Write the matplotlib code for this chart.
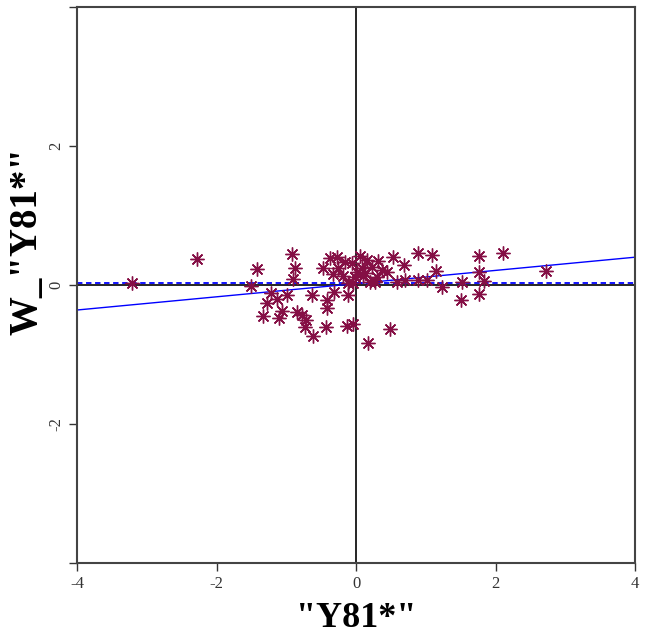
import numpy as np
import matplotlib
matplotlib.use("Agg")
import matplotlib.pyplot as plt

# standardized variable "Y81*" and its spatial lag W_"Y81*"
y81 = [-3.21, -2.28, -1.42, -1.50, -1.22, -1.28, -1.13, -1.34, -1.11, -0.92,
       -0.88, -0.90, -0.99, -1.06, -0.85, -0.77, -0.72, -0.73, -0.62, -0.63,
       -0.43, -0.42, -0.42, -0.32, -0.47, -0.37, -0.27, -0.26, -0.19, -0.11,
       -0.13, -0.04, 0.06, -0.06, 0.13, -0.01, 0.16, 0.32, 0.53, 0.69,
       0.44, 0.89, 1.09, 1.15, 1.23, 1.02, 0.89, 0.70, 0.59, 0.27,
       0.49, 0.17, -0.11, 0.01, 0.10, 0.30, 0.20, -0.04, -0.33, 1.76,
       2.10, 1.76, 1.52, 1.84, 1.50, 1.76, 2.72, -0.16, 0.23, 0.09,
       0.37]
w_y81 = [0.03, 0.37, 0.23, -0.01, -0.12, -0.26, -0.20, -0.45, -0.47, 0.45,
         0.24, 0.09, -0.14, -0.37, -0.39, -0.43, -0.50, -0.60, -0.73, -0.14,
         -0.60, -0.22, -0.33, -0.10, 0.24, 0.39, 0.40, 0.24, 0.13, -0.14,
         -0.59, -0.56, 0.42, 0.32, 0.17, 0.12, 0.36, 0.35, 0.40, 0.29,
         0.19, 0.46, 0.43, 0.20, -0.03, 0.07, 0.07, 0.07, 0.04, 0.04,
         -0.63, -0.83, 0.03, 0.19, 0.13, 0.12, 0.04, 0.03, 0.16, 0.42,
         0.46, 0.19, 0.04, 0.06, -0.22, -0.13, 0.20, 0.33, 0.26, 0.24,
         0.22]

slope, intercept = 0.095, 0.02      # fitted line
mean_lag = 0.025                    # dashed reference line

plt.rcParams["font.family"] = ["Liberation Serif", "DejaVu Serif"]
plt.rcParams["axes.unicode_minus"] = False

fig = plt.figure(figsize=(6.48, 6.38), dpi=100)
ax = fig.add_axes([0.119, 0.1176, 0.861, 0.8714])

ax.axhline(0, color="black", lw=1.2, zorder=1)
ax.axvline(0, color="black", lw=1.2, zorder=1)
ax.axhline(mean_lag, color="blue", lw=1.3, ls=(0, (3, 2)), zorder=2)

xs = np.array([-4, 4])
ax.plot(xs, intercept + slope * xs, color="blue", lw=1, zorder=2)

col = "#850f45"
ax.plot(y81, w_y81, ls="none", marker=(8, 2, 0), ms=10, mew=1.0,
        color=col, zorder=3)
ax.plot(y81, w_y81, ls="none", marker="o", ms=3, color=col, zorder=3)

ax.set_xlim(-4, 4)
ax.set_ylim(-4, 4)
ax.set_xticks([-4, -2, 0, 2, 4])
ax.set_yticks([-4, -2, 0, 2, 4])
ax.set_yticklabels(["", "-2", "0", "2", ""], rotation=90, va="center")
ax.tick_params(direction="out", length=6, width=1, labelsize=12, colors="#333333")
for s in ax.spines.values():
    s.set_color("#444444")
    s.set_linewidth(1.5)

ax.set_xlabel('"Y81*"', fontsize=26, fontweight="bold", labelpad=7)
ax.set_ylabel('W_"Y81*"', fontsize=28, fontweight="bold")
ax.yaxis.set_label_coords(-0.056, 0.58)

fig.savefig("out.png", dpi=100)
